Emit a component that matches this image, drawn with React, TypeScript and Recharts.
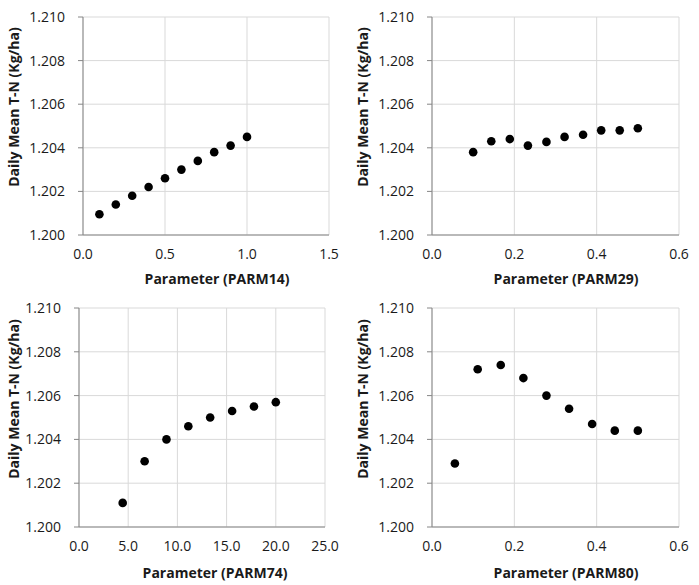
import React from 'react';
import { ScatterChart, Scatter, XAxis, YAxis, CartesianGrid } from 'recharts';

// ---- Data ----
const parm14X = [0.1, 0.2, 0.3, 0.4, 0.5, 0.6, 0.7, 0.8, 0.9, 1.0];
const parm14Y = [1.20095, 1.2014, 1.2018, 1.2022, 1.2026, 1.2030, 1.2034, 1.2038, 1.2041, 1.2045];

const parm29X = [0.1, 0.144, 0.189, 0.233, 0.278, 0.322, 0.367, 0.411, 0.456, 0.5];
const parm29Y = [1.2038, 1.2043, 1.2044, 1.2041, 1.20427, 1.2045, 1.2046, 1.2048, 1.2048, 1.2049];

const parm74X = [4.44, 6.67, 8.89, 11.11, 13.33, 15.56, 17.78, 20.0];
const parm74Y = [1.2011, 1.2030, 1.2040, 1.2046, 1.2050, 1.2053, 1.2055, 1.2057];

const parm80X = [0.0556, 0.111, 0.167, 0.222, 0.278, 0.333, 0.389, 0.444, 0.5];
const parm80Y = [1.2029, 1.2072, 1.2074, 1.2068, 1.2060, 1.2054, 1.2047, 1.2044, 1.2044];

const yTicks = [1.2, 1.202, 1.204, 1.206, 1.208, 1.21];
const xTicks14 = [0, 0.5, 1.0, 1.5];
const xTicks29 = [0, 0.2, 0.4, 0.6];
const xTicks74 = [0, 5, 10, 15, 20, 25];
const xTicks80 = [0, 0.2, 0.4, 0.6];

const yTitle = 'Daily Mean T-N (Kg/ha)';
const xTitles = ['Parameter (PARM14)', 'Parameter (PARM29)', 'Parameter (PARM74)', 'Parameter (PARM80)'];

const zip = (xs: number[], ys: number[]) => xs.map((x, i) => ({ x, y: ys[i] }));

const FONT = '"Open Sans", "Liberation Sans", sans-serif';
const AXIS = '#868686';
const GRID = '#d9d9d9';
const TEXT = '#1a1a1a';

type PanelProps = {
  left: number;
  top: number;
  width: number;
  height: number;
  yAxisWidth: number;
  marginTop: number;
  marginRight: number;
  xAxisHeight: number;
  xDomain: [number, number];
  xTicks: number[];
  data: { x: number; y: number }[];
  xTitle: string;
  xTitlePos: [number, number];
  yTitlePos: [number, number];
};

const Dot = (p: any) => <circle cx={p.cx} cy={p.cy} r={4.3} fill="#000" />;

function Panel(props: PanelProps) {
  const {
    left, top, width, height, yAxisWidth, marginTop, marginRight, xAxisHeight,
    xDomain, xTicks, data, xTitle, xTitlePos, yTitlePos,
  } = props;
  return (
    <div style={{ position: 'absolute', left, top, width, height }}>
      <ScatterChart
        width={width}
        height={height}
        margin={{ top: marginTop, right: marginRight, left: 0, bottom: 0 }}
      >
        <CartesianGrid stroke={GRID} strokeWidth={1} />
        <XAxis
          type="number"
          dataKey="x"
          domain={xDomain}
          ticks={xTicks}
          interval={0}
          allowDataOverflow
          height={xAxisHeight}
          tickFormatter={(v: number) => v.toFixed(1)}
          tick={{ fill: TEXT, fontSize: 14, fontFamily: FONT }}
          tickLine={false}
          tickSize={0}
          tickMargin={14}
          axisLine={{ stroke: AXIS, strokeWidth: 1 }}
          label={() => (
            <text
              x={xTitlePos[0]}
              y={xTitlePos[1]}
              textAnchor="middle"
              dominantBaseline="central"
              fontFamily={FONT}
              fontWeight="bold"
              fontSize={14}
              fill={TEXT}
            >
              {xTitle}
            </text>
          )}
        />
        <YAxis
          type="number"
          dataKey="y"
          domain={[1.2, 1.21]}
          ticks={yTicks}
          interval={0}
          allowDataOverflow
          width={yAxisWidth}
          tickFormatter={(v: number) => v.toFixed(3)}
          tick={{ fill: TEXT, fontSize: 14, fontFamily: FONT }}
          tickLine={{ stroke: AXIS, strokeWidth: 1 }}
          tickSize={5}
          tickMargin={13}
          axisLine={{ stroke: AXIS, strokeWidth: 1 }}
          label={() => (
            <text
              x={yTitlePos[0]}
              y={yTitlePos[1]}
              textAnchor="middle"
              dominantBaseline="central"
              fontFamily={FONT}
              fontWeight="bold"
              fontSize={14}
              fill={TEXT}
              transform={`rotate(-90 ${yTitlePos[0]} ${yTitlePos[1]})`}
            >
              {yTitle}
            </text>
          )}
        />
        <Scatter data={data} fill="#000" shape={Dot} isAnimationActive={false} />
      </ScatterChart>
    </div>
  );
}

export default function App() {
  return (
    <div style={{ position: 'absolute', left: 0, top: 0, width: 699, height: 585, background: '#fff' }}>
      <Panel
        left={0} top={0} width={349} height={290}
        yAxisWidth={83} marginTop={17} marginRight={20} xAxisHeight={55}
        xDomain={[0, 1.5]} xTicks={xTicks14} data={zip(parm14X, parm14Y)}
        xTitle={xTitles[0]} xTitlePos={[217, 278]} yTitlePos={[13, 107]}
      />
      <Panel
        left={349} top={0} width={350} height={290}
        yAxisWidth={83} marginTop={17} marginRight={20} xAxisHeight={55}
        xDomain={[0, 0.6]} xTicks={xTicks29} data={zip(parm29X, parm29Y)}
        xTitle={xTitles[1]} xTitlePos={[217, 278]} yTitlePos={[13, 107]}
      />
      <Panel
        left={0} top={290} width={349} height={295}
        yAxisWidth={79} marginTop={18} marginRight={24} xAxisHeight={58}
        xDomain={[0, 25]} xTicks={xTicks74} data={zip(parm74X, parm74Y)}
        xTitle={xTitles[2]} xTitlePos={[215, 282]} yTitlePos={[13, 109]}
      />
      <Panel
        left={349} top={290} width={350} height={295}
        yAxisWidth={83} marginTop={18} marginRight={20} xAxisHeight={58}
        xDomain={[0, 0.6]} xTicks={xTicks80} data={zip(parm80X, parm80Y)}
        xTitle={xTitles[3]} xTitlePos={[217, 282]} yTitlePos={[13, 109]}
      />
    </div>
  );
}
